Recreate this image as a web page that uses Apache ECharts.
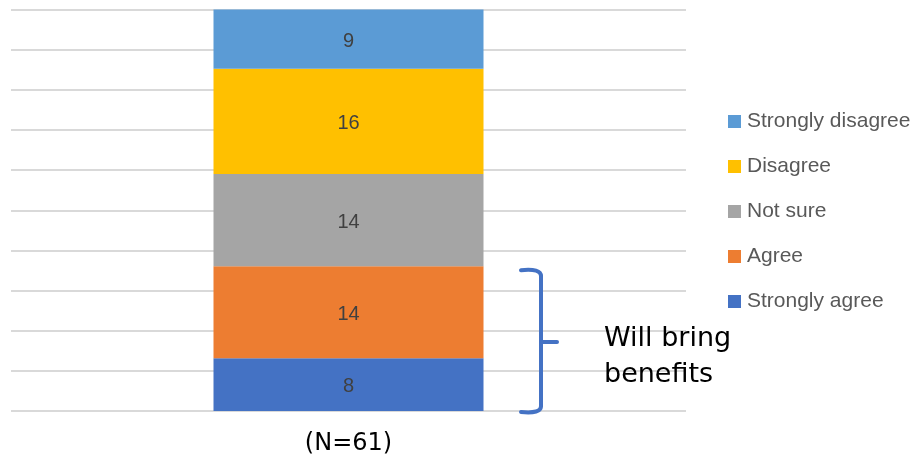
<!DOCTYPE html>
<html>
<head>
<meta charset="utf-8">
<script src="https://cdn.jsdelivr.net/npm/echarts@6/dist/echarts.min.js"></script>
<style>
  html, body { margin: 0; padding: 0; background: #fff; }
  #chart { width: 918px; height: 457px; }
</style>
</head>
<body>
<div id="chart"></div>
<script>
// Survey responses, one stacked column
const categories = ['(N=61)'];
const seriesNames = ['Strongly agree', 'Agree', 'Not sure', 'Disagree', 'Strongly disagree'];
const stronglyAgree = [8];
const agree = [14];
const notSure = [14];
const disagree = [16];
const stronglyDisagree = [9];
const seriesColors = ['#4472C4', '#ED7D31', '#A5A5A5', '#FFC000', '#5B9BD5'];
const bracketLabel = 'Will bring\nbenefits';

const values = [stronglyAgree, agree, notSure, disagree, stronglyDisagree];
const total = values.reduce((s, v) => s + v[0], 0);

const chart = echarts.init(document.getElementById('chart'));

const series = seriesNames.map((name, i) => ({
  name: name,
  type: 'bar',
  stack: 'all',
  barWidth: '40%',
  data: values[i],
  itemStyle: { color: seriesColors[i] },
  label: {
    show: true,
    position: 'inside',
    offset: [0, 2],
    color: '#404040',
    fontSize: 20,
    fontFamily: 'Liberation Sans'
  },
  emphasis: { disabled: true }
}));

chart.setOption({
  animation: false,
  grid: { left: 11, right: 232, top: 9.5, bottom: 46, containLabel: false },
  xAxis: {
    type: 'category',
    data: categories,
    axisLine: { show: false },
    axisTick: { show: false },
    axisLabel: {
      color: '#000',
      fontSize: 24,
      fontFamily: 'DejaVu Sans',
      margin: 21
    }
  },
  yAxis: {
    type: 'value',
    min: 0,
    max: total,
    interval: total / 10,
    axisLabel: { show: false },
    axisLine: { show: false },
    axisTick: { show: false },
    splitLine: { lineStyle: { color: '#D9D9D9', width: 2 } }
  },
  legend: {
    orient: 'vertical',
    left: 728,
    top: 111,
    padding: 0,
    data: seriesNames.slice().reverse(),
    icon: 'rect',
    itemWidth: 13,
    itemHeight: 13,
    itemGap: 24,
    textStyle: {
      color: '#595959',
      fontSize: 21,
      fontFamily: 'Liberation Sans',
      lineHeight: 21,
      padding: [0, 0, 0, 1]
    }
  },
  series: series
});

// Bracket spanning the two "agree" segments, with its caption
function drawBracket() {
  const yTop = chart.convertToPixel({ yAxisIndex: 0 }, stronglyAgree[0] + agree[0]) + 4;
  const yBot = chart.convertToPixel({ yAxisIndex: 0 }, 0) + 1;
  const yMid = (yTop + yBot) / 2 + 1;
  const x0 = 521, x1 = 541, x2 = 557;
  const stroke = { stroke: '#4472C4', lineWidth: 4, fill: null, lineCap: 'round' };
  chart.setOption({
    graphic: [
      {
        type: 'bezierCurve',
        shape: { x1: x0, y1: yTop, x2: x1, y2: yTop + 6, cpx1: x1, cpy1: yTop - 2 },
        style: stroke
      },
      {
        type: 'line',
        shape: { x1: x1, y1: yTop + 6, x2: x1, y2: yBot - 6 },
        style: stroke
      },
      {
        type: 'line',
        shape: { x1: x1, y1: yMid, x2: x2, y2: yMid },
        style: stroke
      },
      {
        type: 'bezierCurve',
        shape: { x1: x1, y1: yBot - 6, x2: x0, y2: yBot, cpx1: x1, cpy1: yBot + 2 },
        style: stroke
      },
      {
        type: 'text',
        left: 604,
        top: yMid - 21,
        style: {
          text: bracketLabel,
          fill: '#000',
          fontSize: 27,
          fontFamily: 'DejaVu Sans',
          lineHeight: 36
        }
      }
    ]
  });
}
drawBracket();
</script>
</body>
</html>
